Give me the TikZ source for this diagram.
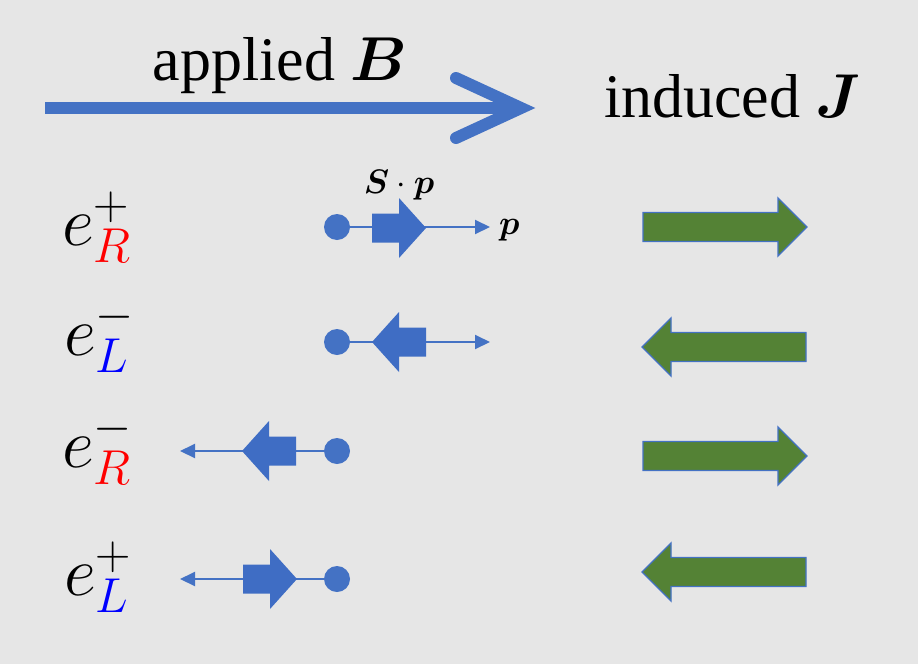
\RequirePackage{fix-cm}
\documentclass[tikz,border=0pt]{standalone}
\usepackage{bm}
\usepackage{fontspec}
\setmainfont{Liberation Serif}
\usetikzlibrary{arrows.meta}
\definecolor{bg}{HTML}{E6E6E6}
\definecolor{pptblue}{HTML}{4472C4}
\definecolor{fatblue}{HTML}{3F6DC4}
\definecolor{pptgreen}{HTML}{548235}
\tikzset{
  dot/.style={circle,fill=pptblue,inner sep=0pt,minimum size=26pt},
  thin arrow/.style={draw=pptblue,line width=2pt,-{Triangle[length=15pt,width=14pt]}},
  bigtext/.style={font=\fontsize{62}{72}\selectfont,inner sep=0pt},
  elabel/.style={font=\fontsize{70}{80}\selectfont,inner sep=0pt,anchor=base west},
  smalllabel/.style={font=\fontsize{34}{40}\selectfont,inner sep=0pt},
  fatR/.pic={\fill[fatblue] (0,-14.5) -- (27,-14.5) -- (27,-30) -- (54,0) -- (27,30) -- (27,14.5) -- (0,14.5) -- cycle;},
  greenR/.pic={\filldraw[fill=pptgreen,draw=pptblue,line width=1.3pt] (0,-14.5) -- (135,-14.5) -- (135,-29) -- (164,0) -- (135,29) -- (135,14.5) -- (0,14.5) -- cycle;}
}
\begin{document}
\begin{tikzpicture}[x=1pt,y=-1pt]
\fill[bg] (0,0) rectangle (918,664);
\useasboundingbox (0,0) rectangle (918,664);
% top applied B arrow
\coordinate (bstart) at (45,108);
\coordinate (bend) at (516,108);
\coordinate (btip) at (521,108);
\draw[pptblue,line width=12pt] (bstart) -- (bend);
\draw[pptblue,line width=12pt,line cap=round,line join=miter] (456,78) -- (btip) -- (456,138);
\node[bigtext,anchor=base] (applied) at (280,80) {applied $\bm{B}$};
\node[bigtext,anchor=base west] (induced) at (604,117) {induced $\bm{J}$};
% labels
\node[elabel] (l1) at (62,245) {$e^{+}_{\color{red}R}$};
\node[elabel] (l2) at (64,355) {$e^{-}_{\color{blue}L}$};
\node[elabel] (l3) at (62,467) {$e^{-}_{\color{red}R}$};
\node[elabel] (l4) at (64,595) {$e^{+}_{\color{blue}L}$};
% row 1
\coordinate (t1) at (490,227);
\draw[thin arrow] (337,227) -- (t1);
\pic at (372,228) {fatR};
\node[dot] (d1) at (337,227) {};
\node[smalllabel,anchor=base] (sp) at (399,193) {$\bm{S}\cdot\bm{p}$};
\node[smalllabel,anchor=base west] (p) at (499,234) {$\bm{p}$};
\pic at (643,227) {greenR};
% row 2
\coordinate (t2) at (490,342);
\draw[thin arrow] (337,342) -- (t2);
\pic[xscale=-1] at (426,342) {fatR};
\node[dot] (d2) at (337,342) {};
\pic[xscale=-1] at (806,347) {greenR};
% row 3
\coordinate (t3) at (180,451);
\draw[thin arrow] (337,451) -- (t3);
\pic[xscale=-1] at (296,451) {fatR};
\node[dot] (d3) at (337,451) {};
\pic at (643,456) {greenR};
% row 4
\coordinate (t4) at (180,579);
\draw[thin arrow] (337,579) -- (t4);
\pic at (243,579) {fatR};
\node[dot] (d4) at (337,579) {};
\pic[xscale=-1] at (806,572) {greenR};
\end{tikzpicture}
\end{document}
